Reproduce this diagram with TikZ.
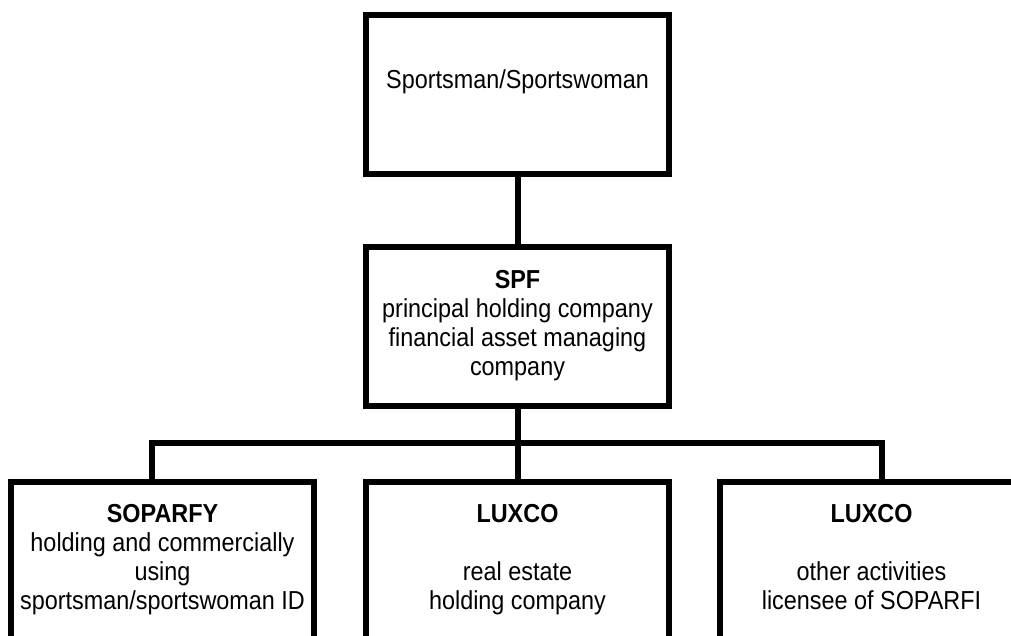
\documentclass[tikz,border=0pt]{standalone}
\usepackage{fontspec}
\setmainfont[FakeStretch=0.9]{Liberation Sans}
\usetikzlibrary{positioning}
\tikzset{
    box/.style={draw, line width=6pt, minimum width=303pt, minimum height=159pt,
        inner sep=0pt, outer sep=0pt, align=center, font=\fontsize{26}{29}\selectfont},
    lowbox/.style={box, minimum height=0pt, inner ysep=23pt}
}
\newcommand{\tallstrut}{\rule{0pt}{220pt}}

\begin{document}
\begin{tikzpicture}[x=1pt, y=1pt]
    \useasboundingbox (0,0) rectangle (1011,-635);
    \clip (0,0) rectangle (1011,-635);

    \node[box, text height=19pt, text depth=31pt] (athlete) at (517.5,-94) {Sportsman/Sportswoman};

    \node[box, below=73pt of athlete] (spf) {
        \textbf{SPF}\\
        principal holding company\\
        financial asset managing\\
        company
    };

    \node[lowbox, below=76pt of spf] (luxco) {
        \textbf{LUXCO}\\
        \\
        real estate\\
        holding company\\
        \tallstrut
    };

    \node[lowbox, left=52pt of luxco.north west, anchor=north east] (soparfy) {
        \textbf{SOPARFY}\\
        holding and commercially\\
        using\\
        sportsman/sportswoman ID\\
        \tallstrut
    };

    \node[lowbox, right=51pt of luxco.north east, anchor=north west] (luxcoB) {
        \textbf{LUXCO}\\
        \\
        other activities\\
        licensee of SOPARFI\\
        \tallstrut
    };

    % connectors
    \coordinate (busL) at (152,-443);
    \coordinate (busR) at (882,-443);
    \draw[line width=6pt] (athlete) -- (spf);
    \draw[line width=6pt] (spf) -- (luxco);
    \draw[line width=6pt] (soparfy.north -| busL) |- (busR) -- (luxcoB.north -| busR);
\end{tikzpicture}
\end{document}
